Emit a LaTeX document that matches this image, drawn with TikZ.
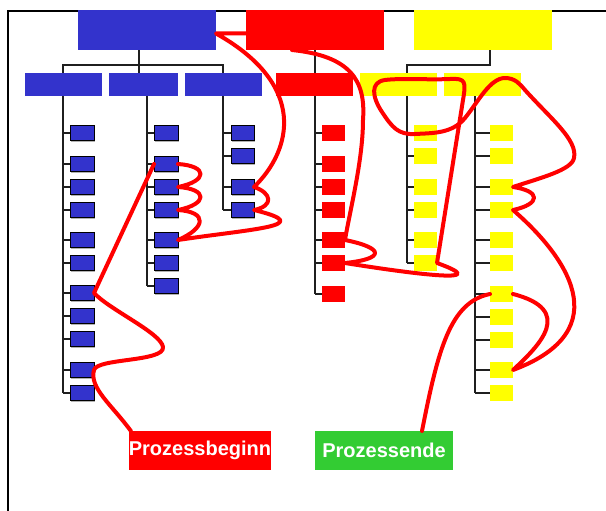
\documentclass[tikz,border=0pt]{standalone}
\usepackage{fontspec}
\setmainfont{Liberation Sans}
\usetikzlibrary{calc,shadows,backgrounds}
\definecolor{pblue}{RGB}{51,51,204}
\definecolor{pred}{RGB}{255,0,0}
\definecolor{pyellow}{RGB}{255,255,0}
\definecolor{pgreen}{RGB}{51,204,51}
\tikzset{
  box/.style={draw=none, inner sep=0pt, outer sep=0pt},
  topbox/.style={box, minimum width=138pt, minimum height=40pt},
  midbox/.style={box, minimum width=77pt, minimum height=23pt},
  blueleaf/.style={box, fill=pblue, draw=black, line width=0.9pt,
    minimum width=24pt, minimum height=15.5pt,
    drop shadow={shadow xshift=1.2pt, shadow yshift=-1.2pt, fill=black!30, opacity=1}},
  redleaf/.style={box, fill=pred, minimum width=23pt, minimum height=16pt},
  yellowleaf/.style={box, fill=pyellow, minimum width=23pt, minimum height=16pt},
  tree/.style={draw=black!88, line width=1.7pt},
  frameline/.style={draw=black, line width=2pt},
  flow/.style={draw=pred, line width=4pt, line cap=round, line join=round},
  tag/.style={box, minimum width=138pt, minimum height=39pt, text=white,
    font=\bfseries\fontsize{20}{24}\selectfont},
}
\begin{document}
\begin{tikzpicture}[x=1pt,y=-1pt]
\useasboundingbox (0,0) rectangle (606,511);

% top level
\node[topbox, fill=pblue]   (tbB) at (147,30) {};
\node[topbox, fill=pred]    (tbR) at (315,30) {};
\node[topbox, fill=pyellow] (tbY) at (483,30) {};

% second level
\node[midbox, fill=pblue]   (bB1) at (63.5,84.5) {};
\node[midbox, fill=pblue, minimum width=69pt] (bB2) at (143.5,84.5) {};
\node[midbox, fill=pblue]   (bB3) at (223.5,84.5) {};
\node[midbox, fill=pred]    (rR1) at (314.5,84.5) {};
\node[midbox, fill=pyellow] (yY1) at (398.5,84.5) {};
\node[midbox, fill=pyellow] (yY2) at (482.5,84.5) {};

% column lines
\coordinate (bj) at (139,65);
\coordinate (ca) at (63,96);
\coordinate (cb) at (147,96);
\coordinate (cc) at (223,96);
\coordinate (yj) at (490,65);
\coordinate (cy) at (407,65);
\coordinate (cz) at (475,96);

% leaves
\foreach \y [count=\i] in {133,164,187,210,240,263,293,316,339,370,393}
  \node[blueleaf] (la-\i) at (82,\y) {};
\foreach \y [count=\i] in {133,164,187,210,240,263,286}
  \node[blueleaf] (lb-\i) at (166,\y) {};
\foreach \y [count=\i] in {133,156,187,210}
  \node[blueleaf, minimum width=23pt] (lc-\i) at (242.5,\y) {};
\foreach \y [count=\i] in {133,164,187,210,240,263,294}
  \node[redleaf] (lr-\i) at (333.5,\y) {};
\foreach \y [count=\i] in {133,156,187,210,240,263}
  \node[yellowleaf] (ly-\i) at (425.5,\y) {};
\foreach \y [count=\i] in {133,156,187,210,240,263,294,317,340,370,393}
  \node[yellowleaf] (lz-\i) at (501.5,\y) {};

% process start and end
\node[tag, fill=pred]   (pbeg) at (200,450.5) {Prozessbeginn};
\node[tag, fill=pgreen] (pend) at (384,450.5) {Prozessende};

\begin{scope}[on background layer]
  \draw[frameline] (606,10.7) -- (8,10.7) -- (8,511);
  % blue tree
  \draw[tree] (tbB.south -| bj) -- (bj);
  \draw[tree] (ca |- bB1.north) |- (cc |- bj) -- (cc |- bB3.north);
  \draw[tree] (bj) -- (bB2.north -| bj);
  \draw[tree] (ca) -- (ca |- la-11.west);
  \draw[tree] (cb) -- (cb |- lb-7.west);
  \draw[tree] (cc) -- (cc |- lc-4.west);
  \foreach \i in {1,...,11} \draw[tree] (ca |- la-\i.west) -- (la-\i.west);
  \foreach \i in {1,...,7}  \draw[tree] (cb |- lb-\i.west) -- (lb-\i.west);
  \foreach \i in {1,...,4}  \draw[tree] (cc |- lc-\i.west) -- (lc-\i.west);
  % red tree
  \draw[tree] (tbR.south) -- (tbR.south |- lr-7.west);
  \foreach \i in {1,...,7}  \draw[tree] (tbR.south |- lr-\i.west) -- (lr-\i.west);
  % yellow tree
  \draw[tree] (tbY.south -| yj) -- (yj) -- (cy) -- (cy |- ly-6.west);
  \draw[tree] (cz) -- (cz |- lz-11.west);
  \foreach \i in {1,...,6}  \draw[tree] (cy |- ly-\i.west) -- (ly-\i.west);
  \foreach \i in {1,...,11} \draw[tree] (cz |- lz-\i.west) -- (lz-\i.west);
\end{scope}

% process path, blue part
\draw[flow] ($(pbeg.north west)+(2,0)$) .. controls (112,405) and (89,388) .. (la-10.east)
  .. controls (97,358) and (165,362) .. (163,347)
  .. controls (161,333) and (110,310) .. (la-7.east)
  -- (lb-2.west);
\draw[flow] (lb-2.east) .. controls +(30,2) and +(30,-6) .. (lb-3.east)
  .. controls +(30,2) and +(30,-6) .. (lb-4.east)
  .. controls +(30,2) and +(28,-12) .. (lb-5.east)
  .. controls (250,229) and (320,226) .. (lc-4.east)
  .. controls +(20,-4) and +(18,6) .. (lc-3.east)
  .. controls (292,150) and (308,85) .. ($(tbB.east)+(0,3.5)$)
  -- ($(tbR.west)+(0,3.5)$);

% process path, red and yellow part
\draw[flow] ($(tbR.south)+(-23,0)$) .. controls (350,56) and (366,80) .. (363,120)
  .. controls (363,160) and (350,210) .. (lr-5.east)
  .. controls +(40,8) and +(40,-4) .. (lr-6.east)
  .. controls (420,275) and (495,284) .. (ly-6.east)
  -- (463,100)
  .. controls (466,82) and (466,78) .. (450,79)
  .. controls (430,80) and (400,78) .. (385,80)
  .. controls (370,82) and (372,97) .. (382,112)
  .. controls (392,127) and (398,135) .. (415,134)
  .. controls (432,133) and (452,134) .. (465,118)
  .. controls (478,102) and (490,78) .. (505,78)
  .. controls (515,78) and (520,84) .. (525,90)
  .. controls (550,118) and (578,140) .. (574,158)
  .. controls (572,170) and (540,178) .. (lz-3.east)
  .. controls +(28,4) and +(28,-6) .. (lz-4.east)
  .. controls (565,255) and (620,330) .. (lz-10.east)
  .. controls (540,345) and (575,310) .. (lz-7.east);
\draw[flow] (lz-7.west) .. controls (450,302) and (438,350) .. ($(pend.north)+(38,0)$);
\end{tikzpicture}
\end{document}
